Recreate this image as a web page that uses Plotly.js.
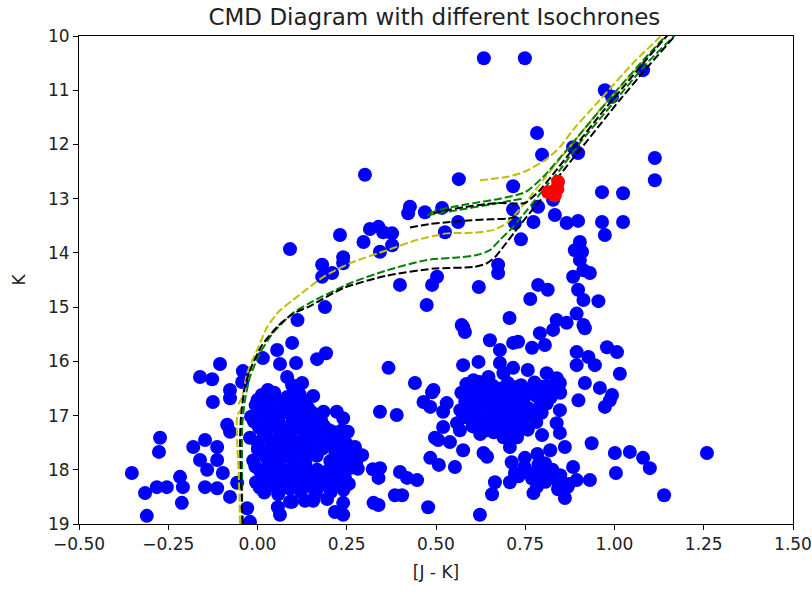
<!DOCTYPE html>
<html>
<head>
<meta charset="utf-8">
<script src="https://cdn.plot.ly/plotly-3.0.1.min.js"></script>
<style>html,body{margin:0;padding:0;background:#fff;}#chart{width:812px;height:592px;}</style>
</head>
<body>
<div id="chart"></div>
<script>
// Observed stars: [J-K, K]
const starsUpper = [
[0.634,10.41],[0.749,10.41],[1.080,10.63],[0.973,11.00],[0.993,11.12],[0.783,11.79],[0.797,12.19],[0.884,12.05],
[0.898,12.16],[1.113,12.25],[1.113,12.66],[0.301,12.56],[0.564,12.64],[0.716,12.77],[0.965,12.88],[1.024,12.90],
[0.828,13.02],[0.786,13.15],[0.427,13.15],[0.422,13.27],[0.469,13.25],[0.517,13.17],[0.716,13.20],[0.721,13.45],
[0.562,13.43],[0.773,13.43],[0.833,13.30],[0.866,13.45],[0.898,13.41],[0.965,13.43],[0.973,13.67],[1.024,13.43],
[0.525,13.62],[0.738,13.75],[0.231,13.67],[0.315,13.56],[0.339,13.52],[0.352,13.62],[0.377,13.64],[0.297,13.80],
[0.377,13.86],[0.343,13.98],[0.091,13.93],[0.903,13.80],[0.889,13.95],[0.909,13.98],[0.903,14.13],[0.181,14.22],
[0.209,14.37],[0.240,14.08],[0.240,14.19],[0.181,14.44],[0.913,14.32],[0.931,14.37],[0.884,14.44],[0.674,14.22],
[0.674,14.37],[0.503,14.44],[0.489,14.59],[0.399,14.59],[0.620,14.63],[0.786,14.59],[0.813,14.68],[0.898,14.68],
[0.913,14.87],[0.955,14.89],[0.764,14.85],[0.474,14.96],[0.189,15.00],[0.112,15.24],[0.706,15.20],[0.838,15.24],
[0.866,15.29],[0.894,15.12],[0.913,15.33],[0.572,15.33]
];
const starsMiddle = [
[0.576,15.37],[0.581,15.46],[0.651,15.61],[0.679,15.79],[0.716,15.66],[0.730,15.64],[0.769,15.75],[0.791,15.48],
[0.805,15.70],[0.828,15.42],[0.917,15.39],[0.576,16.07],[0.619,16.01],[0.679,16.03],[0.716,16.12],[0.757,16.16],
[0.810,16.22],[0.838,16.31],[0.605,16.35],[0.647,16.29],[0.689,16.22],[0.894,15.83],[0.894,16.07],[0.493,16.53],
[0.530,16.77],[0.979,15.74],[1.007,15.83],[0.927,15.92],[0.945,16.07],[1.015,16.23],[0.847,16.40],[0.917,16.40],
[0.959,16.49],[0.993,16.62],[0.899,16.72],[0.973,16.84],[0.987,16.72],[0.848,16.58],[0.367,16.12],[0.441,16.40],
[0.489,16.57],[0.465,16.75],[0.484,16.84],[0.520,16.93],[0.343,16.93],[0.390,16.99],[0.520,17.21],[0.506,17.45],
[0.539,17.49],[0.559,17.14],[0.567,17.27],[0.497,17.41]
];
const starsLowerRight = [
[0.484,17.78],[0.508,17.91],[0.553,17.95],[0.343,17.97],[0.399,18.04],[0.419,18.15],[0.447,18.19],[0.385,18.47],
[0.405,18.47],[0.478,18.69],[0.623,18.83],[0.665,18.23],[0.657,18.45],[0.707,18.23],[0.721,18.06],[0.576,17.64],
[0.633,17.69],[0.643,17.76],[0.749,17.78],[0.764,18.06],[0.791,18.06],[0.805,17.88],[0.773,18.43],[0.847,16.90],
[0.838,17.14],[0.847,17.32],[0.797,17.36],[0.820,17.64],[0.861,17.58],[0.784,17.71],[0.838,18.19],[0.868,18.32],
[0.884,17.95],[0.894,18.19],[0.861,18.52],[0.936,17.51],[1.001,17.69],[1.043,17.67],[1.080,17.78],[1.099,17.97],
[1.004,18.06],[1.259,17.69],[1.139,18.47],[0.931,18.19],[0.689,17.40],[0.707,17.58],[0.727,17.40],[0.812,18.06],
[0.727,18.10]
];
const starsLeft = [
[0.097,15.66],[0.055,15.79],[0.167,15.96],[0.192,15.85],[0.015,15.94],[-0.105,16.05],[-0.041,16.18],[0.063,16.05],
[0.108,16.03],[-0.161,16.29],[-0.127,16.33],[0.083,16.29],[0.097,16.44],[-0.077,16.53],[-0.077,16.68],[-0.125,16.75],
[0.156,16.64],[0.029,16.53],[-0.085,17.17],[-0.077,17.30],[-0.180,17.58],[-0.147,17.45],[-0.113,17.58],[-0.161,17.82],
[-0.141,18.00],[-0.113,17.82],[-0.217,18.13],[-0.209,18.32],[-0.212,18.61],[-0.147,18.32],[-0.113,18.34],[-0.077,18.50],
[-0.029,18.71],[-0.021,18.96],[0.057,18.69],[-0.273,17.41],[-0.276,17.67],[-0.352,18.06],[-0.315,18.43],[-0.282,18.32],
[-0.254,18.32],[-0.310,18.85],[-0.057,18.24],[-0.097,18.06],[-0.043,16.38],[0.125,16.40],[0.185,16.93],[0.222,16.93],
[0.240,17.05],[0.253,17.30],[0.273,17.58],[0.293,17.73],[0.231,17.58],[0.339,18.15],[0.325,18.61],[0.240,18.61],
[0.240,18.83],[0.217,18.78],[0.063,18.83],[0.097,18.59],[0.133,18.57],[0.156,18.57],[0.323,17.99],[0.167,18.00],
[0.259,17.97],[0.237,17.27],[0.339,18.65],[0.195,18.54],[0.091,18.59]
];
const starsLeftCore = [
[0.012,16.62],[0.047,16.58],[0.083,16.66],[0.118,16.61],
[-0.005,16.81],[0.031,16.78],[0.069,16.84],[0.104,16.79],[0.142,16.86],
[-0.018,17.02],[0.022,16.98],[0.058,17.05],[0.094,16.99],[0.131,17.04],[0.166,17.08],
[0.004,17.22],[0.041,17.18],[0.077,17.25],[0.113,17.20],[0.149,17.24],[0.186,17.19],[0.213,17.31],
[-0.021,17.41],[0.018,17.38],[0.055,17.44],[0.091,17.39],[0.127,17.45],[0.163,17.41],[0.199,17.47],[0.236,17.43],
[0.001,17.62],[0.037,17.58],[0.074,17.65],[0.108,17.60],[0.146,17.66],[0.182,17.61],[0.218,17.68],[0.252,17.71],
[-0.012,17.83],[0.026,17.79],[0.061,17.86],[0.097,17.81],[0.134,17.87],[0.204,17.84],[0.241,17.82],[0.276,17.88],
[0.008,18.03],[0.045,18.00],[0.082,18.07],[0.118,18.02],[0.156,18.08],[0.191,18.04],[0.228,18.11],
[-0.004,18.23],[0.034,18.20],[0.071,18.27],[0.107,18.22],[0.144,18.28],[0.181,18.24],[0.219,18.30],[0.256,18.26],
[0.019,18.42],[0.058,18.45],[0.121,18.40],[0.162,18.44],[0.205,18.41],
[0.000,16.71],[0.036,16.69],[0.071,16.73],[0.106,16.68],[0.131,16.72],
[0.013,16.91],[0.049,16.89],[0.086,16.93],[0.121,16.88],[0.154,16.95],
[-0.010,17.11],[0.026,17.09],[0.061,17.14],[0.099,17.10],[0.139,17.13],[0.178,17.09],
[0.024,17.31],[0.061,17.29],[0.094,17.33],[0.131,17.30],[0.169,17.32],[0.201,17.27],
[0.001,17.51],[0.039,17.49],[0.076,17.54],[0.111,17.50],[0.146,17.53],[0.181,17.50],[0.214,17.56],[0.249,17.52],
[0.021,17.71],[0.056,17.69],[0.091,17.73],[0.126,17.70],[0.166,17.74],[0.234,17.72],[0.268,17.75],
[-0.006,17.94],[0.031,17.92],[0.066,17.96],[0.101,17.93],[0.136,17.97],[0.211,17.95],[0.246,17.93],[0.281,17.98],
[0.021,18.13],[0.061,18.11],[0.096,18.15],[0.136,18.12],[0.171,18.16],[0.206,18.13],[0.246,18.17],
[0.006,18.33],[0.051,18.31],[0.091,18.35],[0.131,18.32],[0.166,18.36],[0.201,18.33],[0.241,18.37]
];
const starsRightCore = [
[0.585,16.42],[0.622,16.38],[0.659,16.45],[0.701,16.40],[0.738,16.44],[0.776,16.39],[0.812,16.46],
[0.571,16.58],[0.608,16.55],[0.646,16.60],[0.684,16.56],[0.722,16.61],[0.761,16.57],[0.798,16.62],[0.834,16.55],
[0.582,16.74],[0.619,16.71],[0.657,16.77],[0.695,16.72],[0.733,16.76],[0.810,16.78],
[0.568,16.90],[0.606,16.87],[0.644,16.93],[0.682,16.88],[0.720,16.92],[0.758,16.86],[0.796,16.95],
[0.592,17.05],[0.631,17.02],[0.669,17.08],[0.707,17.03],[0.745,17.07],[0.781,17.12],
[0.603,17.20],[0.642,17.17],[0.681,17.23],[0.718,17.19],[0.757,17.26],
[0.624,17.34],[0.662,17.31],[0.701,17.36],
[0.601,16.49],[0.641,16.47],[0.681,16.50],[0.721,16.48],[0.761,16.51],[0.796,16.47],[0.831,16.50],
[0.591,16.66],[0.631,16.64],[0.666,16.67],[0.701,16.65],[0.746,16.68],[0.781,16.64],[0.821,16.67],
[0.601,16.82],[0.641,16.81],[0.676,16.84],[0.711,16.81],[0.791,16.83],
[0.576,16.98],[0.611,16.97],[0.651,17.00],[0.691,16.96],[0.731,16.99],[0.766,16.97],
[0.621,17.12],[0.661,17.11],[0.701,17.14],[0.736,17.12],
[0.641,17.27],[0.681,17.29],[0.721,17.27],
[0.712,17.86],[0.748,17.95],[0.787,17.90],[0.826,18.00],[0.731,18.12],[0.769,18.16],[0.807,18.22],
[0.848,18.10],[0.872,18.26],[0.783,18.31],[0.842,18.36]
];
// Highlighted (red) stars
const starsRed = [[0.842,12.69],[0.814,12.88],[0.833,12.94],[0.840,12.82]];

// Isochrones: [J-K, K], null = break between branches
const isoYellow = [
[-0.049,19.0],[-0.052,18.19],[-0.057,17.45],[-0.057,17.0],[-0.046,16.88],[-0.052,16.78],[-0.043,16.66],[-0.029,16.22],
[-0.001,15.79],[0.027,15.37],[0.060,15.08],[0.111,14.81],[0.185,14.44],[0.259,14.19],[0.363,13.95],[0.447,13.76],
[0.531,13.64],[0.604,13.63],[0.660,13.58],[0.699,13.45],[0.727,13.25],[0.763,12.97],[0.800,12.66],[0.838,12.34],
[0.884,11.97],[0.959,11.36],[1.052,10.68],[1.136,10.07],[1.175,9.80],
null,
[0.623,12.66],[0.665,12.63],[0.705,12.59],[0.745,12.51],[0.775,12.41],[0.810,12.27],
[0.847,12.05],[0.884,11.73],[0.959,11.18],[1.052,10.50],[1.127,10.02],[1.160,9.80]
];
const isoGreen = [
[-0.043,19.0],[-0.043,18.19],[-0.043,17.21],[-0.035,16.71],[-0.021,16.29],[0.007,15.85],[0.043,15.48],[0.099,15.11],
[0.147,14.92],[0.259,14.56],[0.363,14.32],[0.475,14.13],[0.567,14.08],[0.615,14.04],[0.651,13.95],[0.679,13.76],
[0.716,13.52],[0.755,13.21],[0.800,12.84],[0.847,12.47],[0.903,11.97],[0.996,11.24],[1.091,10.50],[1.164,10.02],
[1.197,9.80],
null,
[0.740,13.00],[0.650,13.11],[0.560,13.21],[0.475,13.30],[0.500,13.22],[0.590,13.10],[0.680,13.00],[0.750,12.88],
[0.800,12.60],[0.860,12.15],[0.930,11.60],[1.000,11.05],[1.080,10.45],[1.150,9.95],[1.170,9.80]
];
const isoBlack = [
[-0.041,19.0],[-0.046,18.20],[-0.049,17.45],[-0.046,17.0],[-0.035,16.45],[-0.015,16.07],[0.013,15.70],[0.057,15.35],
[0.100,15.12],[0.147,14.98],[0.240,14.65],[0.362,14.42],[0.493,14.29],[0.605,14.26],[0.640,14.20],[0.665,14.08],
[0.693,13.85],[0.721,13.61],[0.763,13.26],[0.805,12.93],[0.847,12.56],[0.903,12.10],[0.959,11.64],[1.015,11.18],
[1.085,10.63],[1.169,10.0],[1.210,9.70],
null,
[0.427,13.53],[0.480,13.47],[0.539,13.43],[0.600,13.40],[0.651,13.38],[0.700,13.37],[0.725,13.33],
null,
[0.493,13.27],[0.540,13.20],[0.595,13.14],[0.640,13.10],[0.680,13.08],[0.720,13.09],[0.750,13.08],[0.790,12.85],
[0.840,12.45],[0.900,11.95],[0.960,11.45],[1.030,10.90],[1.100,10.35],[1.160,9.90],[1.180,9.75]
];

const titleText = 'CMD Diagram with different Isochrones';
const xLabel = '[J - K]';
const yLabel = 'K';

const allBlue = [].concat(starsUpper, starsMiddle, starsLowerRight, starsLeft, starsLeftCore, starsRightCore);
const xs = a => a.map(p => p ? p[0] : null);
const ys = a => a.map(p => p ? p[1] : null);

const dash = '8px,3px';
const traces = [
  {x: xs(allBlue), y: ys(allBlue), mode: 'markers', type: 'scatter',
   marker: {color: '#0000ff', size: 14, line: {width: 0}}},
  {x: xs(isoYellow), y: ys(isoYellow), mode: 'lines', type: 'scatter',
   line: {color: '#bfbf00', width: 2, dash: dash, shape: 'spline', smoothing: 0.6}, connectgaps: false},
  {x: xs(isoGreen), y: ys(isoGreen), mode: 'lines', type: 'scatter',
   line: {color: '#008000', width: 2, dash: dash, shape: 'spline', smoothing: 0.6}, connectgaps: false},
  {x: xs(isoBlack), y: ys(isoBlack), mode: 'lines', type: 'scatter',
   line: {color: '#000000', width: 2, dash: dash, shape: 'spline', smoothing: 0.6}, connectgaps: false},
  {x: xs(starsRed), y: ys(starsRed), mode: 'markers', type: 'scatter',
   marker: {color: '#ff0000', size: 14, line: {width: 0}}}
];

const axisCommon = {
  showgrid: false, zeroline: false, showline: true, linecolor: '#000', linewidth: 1, mirror: true,
  ticks: 'outside', ticklen: 5, tickwidth: 1, tickcolor: '#000',
  tickfont: {family: 'DejaVu Sans', size: 17, color: '#222'}
};

const layout = {
  width: 812, height: 592,
  margin: {l: 79, r: 19, t: 36, b: 68},
  paper_bgcolor: '#fff', plot_bgcolor: '#fff',
  showlegend: false,
  font: {family: 'DejaVu Sans', size: 17, color: '#222'},
  title: {text: titleText, x: 0.535, xanchor: 'center', y: 0.972, yanchor: 'middle', yref: 'container',
          font: {family: 'DejaVu Sans', size: 23, color: '#222'}},
  xaxis: Object.assign({}, axisCommon, {
    range: [-0.5, 1.5], tick0: -0.5, dtick: 0.25, tickformat: '.2f',
    title: {text: xLabel, font: {family: 'DejaVu Sans', size: 17, color: '#222'}, standoff: 12}
  }),
  yaxis: Object.assign({}, axisCommon, {
    range: [19, 10], tick0: 10, dtick: 1,
    title: {text: yLabel, font: {family: 'DejaVu Sans', size: 17, color: '#222'}, standoff: 18}
  })
};

Plotly.newPlot('chart', traces, layout, {displayModeBar: false, staticPlot: true});
</script>
</body>
</html>
